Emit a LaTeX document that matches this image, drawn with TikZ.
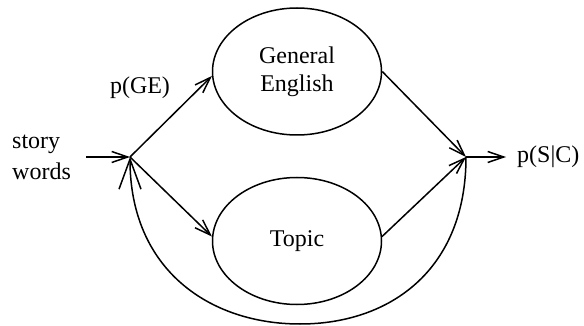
\documentclass[tikz,border=0pt]{standalone}
\usepackage{fontspec}
\setmainfont{Liberation Serif}
\usetikzlibrary{arrows.meta,shapes.geometric}
\begin{document}
\begin{tikzpicture}[x=1pt,y=-1pt,
  every node/.style={font=\fontsize{24}{28}\selectfont, inner sep=0pt},
  model/.style={draw, ellipse, line width=1.5pt, minimum width=169pt,
                minimum height=127pt, align=center},
  link/.style={line width=1.5pt,
               -{Straight Barb[length=16pt,width=11pt,line width=1.5pt]}},
  feedback/.style={line width=1.5pt,
               -{Straight Barb[length=30pt,width=22pt,line width=1.5pt]}}]
\useasboundingbox (0,0) rectangle (584,326);

% junction points and free ends of the input/output arrows
\coordinate (in)  at (130,157);
\coordinate (out) at (466,157);
\coordinate (src) at (86,157);
\coordinate (dst) at (506,157);
\coordinate (bot) at (300,324);

% language models
\node[model] (ge) at (297,71.5) {General\\English};
\node[model] (tp) at (297,241)  {Topic};

% labels
\node[anchor=west, align=left, font=\fontsize{24}{31}\selectfont]
  (sw) at (12,157) {story\\words};
\node (pge) at (140,88) {p(GE)};
\node[anchor=west] (psc) at (517,157) {p(S|C)};

% connectors
\draw[link] (src) -- (in);
\draw[link] (in) -- (ge.183);
\draw[link] (in) -- (tp.177);
\draw[link] (ge.east) -- (out);
\draw[link] (tp.3) -- (out);
\draw[link] (out) -- (dst);
\draw[feedback] (out) .. controls (466,270) and (390,324) .. (bot)
                      .. controls (210,324) and (130,270) .. (in);
\end{tikzpicture}
\end{document}
